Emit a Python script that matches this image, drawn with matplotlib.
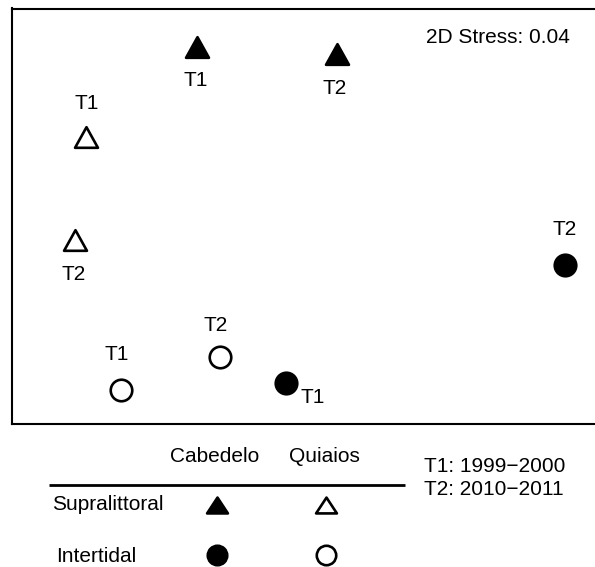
import matplotlib
matplotlib.use("Agg")
import matplotlib.pyplot as plt
from matplotlib.path import Path

plt.rcParams['font.family'] = ['Liberation Sans', 'DejaVu Sans']

# ---- data: nMDS coordinates ----
labels_period = ["T1", "T2"]
cab_supra_x = [-0.515, 0.185]
cab_supra_y = [0.845, 0.808]
qui_supra_x = [-1.068, -1.125]
qui_supra_y = [0.395, -0.120]
cab_inter_x = [-0.068, 1.323]
cab_inter_y = [-0.835, -0.245]
qui_inter_x = [-0.893, -0.400]
qui_inter_y = [-0.870, -0.704]
stress_text = "2D Stress: 0.04"
sites = ["Cabedelo", "Quiaios"]
zones = ["Supralittoral", "Intertidal"]
periods_text = ["T1: 1999\u22122000", "T2: 2010\u22122011"]

W, H, DPI = 595, 567, 100
fig = plt.figure(figsize=(W / DPI, H / DPI), dpi=DPI)

# main axes (pixel box: left 11, right 598, top 8, bottom 424)
L, R, T, B = 11.5, 598, 8.5, 424
ax = fig.add_axes([L / W, 1 - B / H, (R - L) / W, (B - T) / H])
ax.set_xlim((L - 300) / 200, (R - 300) / 200)
ax.set_ylim((216 - B) / 200, (216 - T) / 200)
ax.set_xticks([])
ax.set_yticks([])
for s in ax.spines.values():
    s.set_linewidth(1.5)
    s.set_color("black")


def triangle(h):
    return Path([(-1, -h), (1, -h), (0, h), (-1, -h)],
                [Path.MOVETO, Path.LINETO, Path.LINETO, Path.CLOSEPOLY])


tri = triangle(0.9)
tri_leg = triangle(0.76)
FS = 15

common = dict(linestyle="none", markeredgecolor="black", markeredgewidth=1.9)
ax.plot(cab_supra_x, cab_supra_y, marker=tri, markersize=16.5, markerfacecolor="black", **common)
ax.plot(qui_supra_x, qui_supra_y, marker=tri, markersize=16.5, markerfacecolor="white", **common)
ax.plot(cab_inter_x, cab_inter_y, marker="o", markersize=15.5, markerfacecolor="black", **common)
ax.plot(qui_inter_x, qui_inter_y, marker="o", markersize=15.5, markerfacecolor="white", **common)

# label offsets in pixels (dx, dy of baseline; positive dy = upward)
ABOVE = 28
BELOW = -39.5
label_offsets = {
    ("cs", 0): (-1.5, BELOW), ("cs", 1): (-2, BELOW),
    ("qs", 0): (0, ABOVE), ("qs", 1): (-1.5, BELOW - 1),
    ("ci", 0): (26.5, -19.7), ("ci", 1): (0, ABOVE + 2),
    ("qi", 0): (-4.5, ABOVE + 2), ("qi", 1): (-4, ABOVE - 2),
}
groups = {"cs": (cab_supra_x, cab_supra_y), "qs": (qui_supra_x, qui_supra_y),
          "ci": (cab_inter_x, cab_inter_y), "qi": (qui_inter_x, qui_inter_y)}
for key, (xs, ys) in groups.items():
    for i, (x, y) in enumerate(zip(xs, ys)):
        dx, dy = label_offsets[(key, i)]
        ax.annotate(labels_period[i], (x, y), xytext=(dx, dy), textcoords="offset pixels",
                    ha="center", va="baseline", fontsize=FS)

# overlay axes in pixel coordinates for annotations / legend
ov = fig.add_axes([0, 0, 1, 1], facecolor="none")
ov.set_xlim(0, W)
ov.set_ylim(H, 0)
ov.axis("off")

ov.text(569.5, 43.3, stress_text, ha="right", va="baseline", fontsize=FS)

# legend table
ov.text(215, 461.7, sites[0], ha="center", va="baseline", fontsize=FS)
ov.text(324.7, 461.7, sites[1], ha="center", va="baseline", fontsize=FS)
ov.plot([49.3, 405.3], [484.5, 484.5], color="black", linewidth=2, solid_capstyle="butt")
ov.text(51.7, 510, zones[0], ha="left", va="baseline", fontsize=FS)
ov.text(56, 562, zones[1], ha="left", va="baseline", fontsize=FS)
ov.plot([217], [505], marker=tri_leg, markersize=15, markerfacecolor="black", **common)
ov.plot([326], [505], marker=tri_leg, markersize=15, markerfacecolor="white", **common)
ov.plot([217], [555], marker="o", markersize=14, markerfacecolor="black", **common)
ov.plot([326], [555], marker="o", markersize=14, markerfacecolor="white", **common)
ov.text(424, 471.7, periods_text[0], ha="left", va="baseline", fontsize=FS)
ov.text(424, 495, periods_text[1], ha="left", va="baseline", fontsize=FS)

fig.savefig("out.png", dpi=DPI)
